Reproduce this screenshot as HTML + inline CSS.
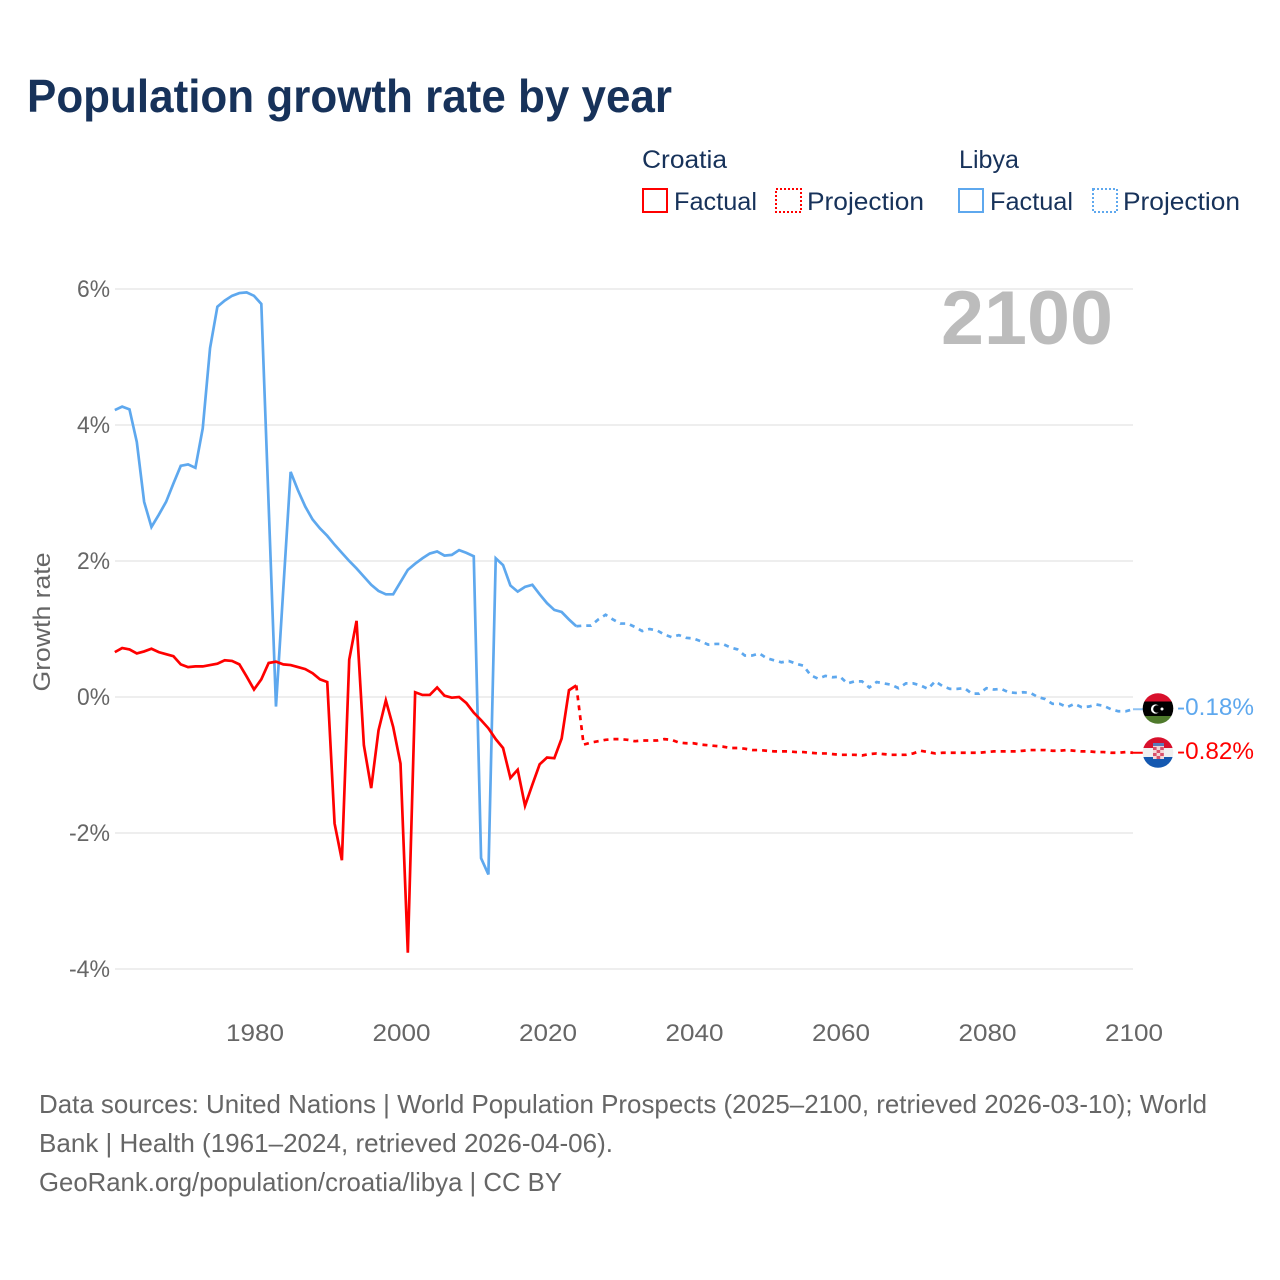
<!DOCTYPE html>
<html lang="en">
<head>
<meta charset="utf-8">
<title>Population growth rate by year</title>
<style>
html,body{margin:0;padding:0;background:#fff;width:1280px;height:1280px;overflow:hidden}
svg{display:block}
text{font-family:"Liberation Sans",sans-serif}
</style>
</head>
<body>
<svg id="chart" xmlns="http://www.w3.org/2000/svg" width="1280" height="1280" viewBox="0 0 1280 1280">
  <defs>
    <clipPath id="flag-clip-ly"><circle cx="1158" cy="708.5" r="15.3"/></clipPath>
    <clipPath id="flag-clip-hr"><circle cx="1158" cy="752.5" r="15.3"/></clipPath>
  </defs>
  <text x="27" y="112" font-size="46" font-weight="700" fill="#17325a" textLength="645" lengthAdjust="spacingAndGlyphs">Population growth rate by year</text>

  <g fill="#17325a" font-size="25">
    <text x="642" y="168" textLength="85" lengthAdjust="spacingAndGlyphs">Croatia</text>
    <g>
      <rect x="643" y="189" width="24" height="23" fill="none" stroke="#ff0000" stroke-width="2"/>
      <text x="674" y="210" textLength="83" lengthAdjust="spacingAndGlyphs">Factual</text>
    </g>
    <g>
      <rect x="776" y="189" width="25" height="23" fill="none" stroke="#ff0000" stroke-width="2" stroke-dasharray="2,2"/>
      <text x="807" y="210" textLength="117" lengthAdjust="spacingAndGlyphs">Projection</text>
    </g>
    <text x="959" y="168" textLength="60" lengthAdjust="spacingAndGlyphs">Libya</text>
    <g>
      <rect x="959" y="189" width="24" height="23" fill="none" stroke="#5ea8ee" stroke-width="2"/>
      <text x="990" y="210" textLength="83" lengthAdjust="spacingAndGlyphs">Factual</text>
    </g>
    <g>
      <rect x="1093" y="189" width="24" height="23" fill="none" stroke="#5ea8ee" stroke-width="2" stroke-dasharray="2,2"/>
      <text x="1123" y="210" textLength="117" lengthAdjust="spacingAndGlyphs">Projection</text>
    </g>
  </g>

  <g id="grid"></g>
  <g id="y-ticks"></g>
  <g id="x-ticks"></g>

  <text transform="translate(50,622) rotate(-90)" text-anchor="middle" font-size="24" fill="#666666" textLength="139" lengthAdjust="spacingAndGlyphs">Growth rate</text>
  <text x="941" y="344" font-size="76" font-weight="700" fill="#bcbcbc" textLength="172" lengthAdjust="spacingAndGlyphs">2100</text>

  <g id="series"></g>

  <g clip-path="url(#flag-clip-ly)">
    <rect x="1142" y="693" width="32" height="9" fill="#d8102c"/>
    <rect x="1142" y="701.5" width="32" height="15" fill="#000"/>
    <rect x="1142" y="716" width="32" height="9" fill="#4f7a2c"/>
    <circle cx="1155.5" cy="709" r="4.6" fill="#fff"/>
    <circle cx="1157" cy="709" r="3.8" fill="#000"/>
    <circle cx="1162" cy="709" r="1.5" fill="#fff"/>
  </g>
  <g clip-path="url(#flag-clip-hr)">
    <rect x="1142" y="737" width="32" height="11" fill="#d8102c"/>
    <rect x="1142" y="748" width="32" height="9" fill="#f0f0f0"/>
    <rect x="1142" y="757" width="32" height="12" fill="#1458b0"/>
    <rect x="1153" y="743" width="11" height="16" fill="#f4d6d6"/>
    <rect x="1153" y="743" width="11" height="3" fill="#5a7ab8"/>
    <rect x="1153" y="747" width="3.6" height="3" fill="#d8506c"/>
    <rect x="1160.2" y="747" width="3.6" height="3" fill="#d8506c"/>
    <rect x="1156.6" y="750" width="3.6" height="3" fill="#d8506c"/>
    <rect x="1153" y="753" width="3.6" height="3" fill="#d8506c"/>
    <rect x="1160.2" y="753" width="3.6" height="3" fill="#d8506c"/>
    <rect x="1156.6" y="756" width="3.6" height="3" fill="#d8506c"/>
  </g>
  <text id="value-libya" x="1177" y="715" font-size="24" fill="#5ea8ee" textLength="77" lengthAdjust="spacingAndGlyphs"></text>
  <text id="value-croatia" x="1177" y="759" font-size="24" fill="#ff0000" textLength="77" lengthAdjust="spacingAndGlyphs"></text>

  <g font-size="26" fill="#666666">
    <text x="39" y="1113" textLength="1168" lengthAdjust="spacingAndGlyphs">Data sources: United Nations | World Population Prospects (2025–2100, retrieved 2026-03-10); World</text>
    <text x="39" y="1152" textLength="574" lengthAdjust="spacingAndGlyphs">Bank | Health (1961–2024, retrieved 2026-04-06).</text>
    <text x="39" y="1191" textLength="523" lengthAdjust="spacingAndGlyphs">GeoRank.org/population/croatia/libya | CC BY</text>
  </g>
</svg>
<script>
const yTickValues = [6, 4, 2, 0, -2, -4];
const xTickYears = [1980, 2000, 2020, 2040, 2060, 2080, 2100];
const factualStartYear = 1961;
const projectionStartYear = 2024;
const libyaFactual = [4.22,4.27,4.23,3.75,2.87,2.50,2.68,2.87,3.14,3.40,3.42,3.37,3.95,5.13,5.74,5.83,5.90,5.94,5.95,5.90,5.78,2.82,-0.14,1.59,3.31,3.04,2.80,2.61,2.48,2.37,2.24,2.12,2.00,1.89,1.77,1.65,1.56,1.51,1.51,1.69,1.87,1.96,2.04,2.11,2.14,2.08,2.09,2.16,2.12,2.07,-2.37,-2.61,2.04,1.94,1.64,1.55,1.62,1.65,1.51,1.38,1.28,1.25,1.14,1.04];
const libyaProjection = [1.04,1.05,1.05,1.14,1.21,1.14,1.08,1.08,1.03,0.97,1.00,0.98,0.92,0.88,0.91,0.87,0.86,0.82,0.77,0.78,0.78,0.73,0.70,0.61,0.61,0.64,0.57,0.54,0.51,0.53,0.49,0.46,0.32,0.27,0.31,0.29,0.30,0.20,0.23,0.23,0.14,0.22,0.20,0.18,0.13,0.20,0.20,0.17,0.12,0.23,0.16,0.12,0.12,0.13,0.05,0.05,0.13,0.11,0.12,0.07,0.06,0.07,0.06,0.00,-0.03,-0.10,-0.10,-0.15,-0.10,-0.15,-0.14,-0.11,-0.13,-0.18,-0.21,-0.21,-0.18];
const croatiaFactual = [0.66,0.72,0.70,0.64,0.67,0.71,0.66,0.63,0.60,0.48,0.44,0.45,0.45,0.47,0.49,0.54,0.53,0.48,0.30,0.11,0.26,0.50,0.52,0.48,0.47,0.44,0.41,0.35,0.26,0.22,-1.86,-2.40,0.55,1.12,-0.71,-1.34,-0.49,-0.05,-0.44,-0.98,-3.76,0.07,0.03,0.03,0.14,0.02,-0.01,0.00,-0.09,-0.23,-0.34,-0.46,-0.62,-0.75,-1.19,-1.07,-1.60,-1.29,-0.99,-0.89,-0.90,-0.61,0.10,0.17];
const croatiaProjection = [0.17,-0.70,-0.67,-0.65,-0.63,-0.62,-0.62,-0.63,-0.65,-0.64,-0.64,-0.64,-0.62,-0.63,-0.67,-0.68,-0.68,-0.70,-0.71,-0.72,-0.73,-0.75,-0.75,-0.76,-0.78,-0.78,-0.79,-0.80,-0.80,-0.80,-0.81,-0.81,-0.82,-0.83,-0.83,-0.84,-0.85,-0.85,-0.85,-0.86,-0.84,-0.83,-0.84,-0.85,-0.85,-0.85,-0.83,-0.79,-0.81,-0.83,-0.82,-0.82,-0.82,-0.82,-0.82,-0.82,-0.81,-0.80,-0.80,-0.80,-0.80,-0.79,-0.78,-0.78,-0.78,-0.79,-0.79,-0.78,-0.79,-0.80,-0.80,-0.81,-0.81,-0.82,-0.82,-0.81,-0.82];

const SVGNS = 'http://www.w3.org/2000/svg';
const BLUE = '#5ea8ee';
const RED = '#ff0000';
const xLabelScale = year => 1134 - (2100 - year) * 7.325;
const xScale = year => 1133 - (2100 - year) * 7.325;
const yScale = value => 697 - value * 68;

function makeEl(tag, parentId) {
  const el = document.createElementNS(SVGNS, tag);
  document.getElementById(parentId).appendChild(el);
  return el;
}
function pathFrom(values, startYear) {
  const parts = values.map((v, i) => (i ? 'L' : 'M') + xScale(startYear + i).toFixed(2) + ' ' + yScale(v).toFixed(2));
  return parts.join(' ');
}

yTickValues.forEach(v => {
  const line = makeEl('line', 'grid');
  
  
  line.setAttribute('x1', 115);
  line.setAttribute('x2', 1133);
  line.setAttribute('y1', yScale(v));
  line.setAttribute('y2', yScale(v));
  line.setAttribute('stroke', '#e9e9e9');
  line.setAttribute('stroke-width', '1.4');
  const label = makeEl('text', 'y-ticks');
  
  
  label.setAttribute('x', 110);
  label.setAttribute('y', yScale(v) + 8);
  label.setAttribute('text-anchor', 'end');
  label.setAttribute('font-size', '24');
  label.setAttribute('fill', '#666666');
  label.setAttribute('textLength', v < 0 ? 41 : 33);
  label.setAttribute('lengthAdjust', 'spacingAndGlyphs');
  label.textContent = v + '%';
});

xTickYears.forEach(year => {
  const label = makeEl('text', 'x-ticks');
  
  
  label.setAttribute('x', xLabelScale(year));
  label.setAttribute('y', 1041);
  label.setAttribute('text-anchor', 'middle');
  label.setAttribute('font-size', '24');
  label.setAttribute('fill', '#666666');
  label.setAttribute('textLength', 58);
  label.setAttribute('lengthAdjust', 'spacingAndGlyphs');
  label.textContent = year;
});

function addConnector(value, color, opacity) {
  const line = makeEl('line', 'series');
  
  
  line.setAttribute('x1', xScale(2100));
  line.setAttribute('x2', 1144);
  line.setAttribute('y1', yScale(value));
  line.setAttribute('y2', yScale(value));
  line.setAttribute('stroke', color);
  line.setAttribute('stroke-width', '2');
  line.setAttribute('stroke-opacity', opacity);
}

const libyaFactualLine = makeEl('path', 'series');


libyaFactualLine.setAttribute('d', pathFrom(libyaFactual, factualStartYear));
libyaFactualLine.setAttribute('fill', 'none');
libyaFactualLine.setAttribute('stroke', BLUE);
libyaFactualLine.setAttribute('stroke-width', '2.7');

const libyaProjectionLine = makeEl('path', 'series');


libyaProjectionLine.setAttribute('d', pathFrom(libyaProjection, projectionStartYear));
libyaProjectionLine.setAttribute('fill', 'none');
libyaProjectionLine.setAttribute('stroke', BLUE);
libyaProjectionLine.setAttribute('stroke-width', '2.7');
libyaProjectionLine.setAttribute('stroke-dasharray', '5,5');

const croatiaFactualLine = makeEl('path', 'series');


croatiaFactualLine.setAttribute('d', pathFrom(croatiaFactual, factualStartYear));
croatiaFactualLine.setAttribute('fill', 'none');
croatiaFactualLine.setAttribute('stroke', RED);
croatiaFactualLine.setAttribute('stroke-width', '2.7');

const croatiaProjectionLine = makeEl('path', 'series');


croatiaProjectionLine.setAttribute('d', pathFrom(croatiaProjection, projectionStartYear));
croatiaProjectionLine.setAttribute('fill', 'none');
croatiaProjectionLine.setAttribute('stroke', RED);
croatiaProjectionLine.setAttribute('stroke-width', '2.7');
croatiaProjectionLine.setAttribute('stroke-dasharray', '5,5');

addConnector(libyaProjection[libyaProjection.length - 1], BLUE, 0.7);
addConnector(croatiaProjection[croatiaProjection.length - 1], RED, 1);

document.getElementById('value-libya').textContent = libyaProjection[libyaProjection.length - 1].toFixed(2) + '%';
document.getElementById('value-croatia').textContent = croatiaProjection[croatiaProjection.length - 1].toFixed(2) + '%';
</script>
</body>
</html>
